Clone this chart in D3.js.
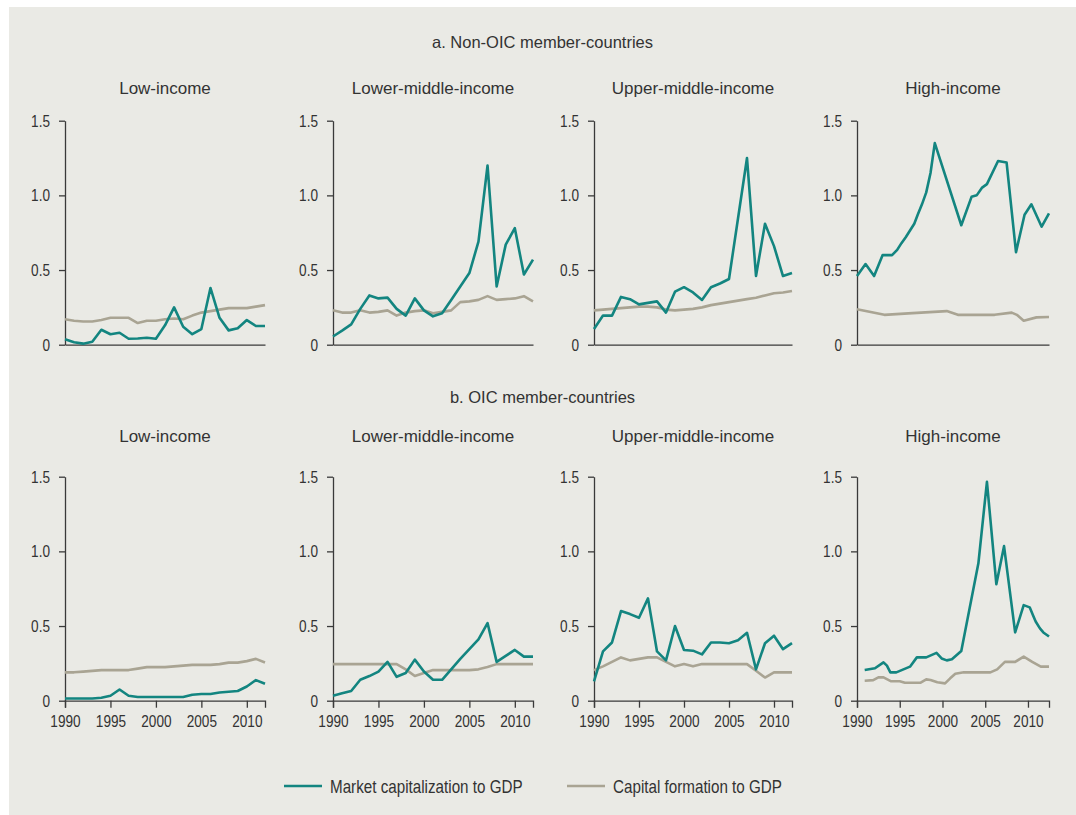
<!DOCTYPE html>
<html>
<head>
<meta charset="utf-8">
<script src="https://cdn.jsdelivr.net/npm/d3@7"></script>
<style>
  html, body { margin: 0; padding: 0; background: #ffffff; }
  svg { display: block; }
</style>
</head>
<body>
<svg id="chart" width="1076" height="815"></svg>
<script>
// ---------------- DATA ----------------
const years = [1990,1991,1992,1993,1994,1995,1996,1997,1998,1999,2000,2001,2002,2003,2004,2005,2006,2007,2008,2009,2010,2011,2012];
const xTickValues = [1990, 1995, 2000, 2005, 2010];
const yTickValues = [0, 0.5, 1.0, 1.5];
const yTickLabels = ["0", "0.5", "1.0", "1.5"];
const groupTitles = ["a. Non-OIC member-countries", "b. OIC member-countries"];
const panelTitles = ["Low-income", "Lower-middle-income", "Upper-middle-income", "High-income"];
const seriesNames = ["Market capitalization to GDP", "Capital formation to GDP"];

// a. Non-OIC member-countries
const nonOicLowMcap = [0.036,0.016,0.007,0.02,0.10,0.07,0.08,0.04,0.042,0.047,0.04,0.13,0.25,0.12,0.07,0.105,0.38,0.18,0.096,0.11,0.165,0.125,0.125];
const nonOicLowGcf  = [0.17,0.16,0.155,0.155,0.165,0.18,0.18,0.18,0.145,0.16,0.16,0.17,0.175,0.17,0.195,0.215,0.225,0.235,0.245,0.245,0.245,0.255,0.265];
const nonOicLmMcap  = [0.055,0.094,0.136,0.24,0.33,0.31,0.315,0.24,0.195,0.31,0.23,0.19,0.21,0.30,0.39,0.48,0.69,1.20,0.39,0.67,0.78,0.47,0.57];
const nonOicLmGcf   = [0.23,0.215,0.215,0.23,0.215,0.22,0.23,0.195,0.215,0.225,0.23,0.21,0.22,0.23,0.285,0.29,0.30,0.325,0.30,0.305,0.31,0.325,0.29];
const nonOicUmMcap  = [0.105,0.195,0.195,0.32,0.305,0.27,0.28,0.29,0.215,0.355,0.385,0.35,0.30,0.385,0.41,0.44,0.845,1.25,0.46,0.81,0.66,0.46,0.48];
const nonOicUmGcf   = [0.23,0.235,0.24,0.245,0.25,0.255,0.255,0.25,0.235,0.23,0.235,0.24,0.25,0.265,0.275,0.285,0.295,0.305,0.315,0.33,0.345,0.35,0.36];
const nonOicHiMcapYears = [1990,1991,1992,1993,1994.1,1994.7,1995.2,1995.7,1996.2,1996.7,1997.1,1997.6,1998.1,1998.6,1999.1,2002.2,2003.4,2004,2004.6,2005.2,2006.5,2007.5,2008.6,2009.6,2010.4,2011.6,2012.46];
const nonOicHiMcap      = [0.46,0.54,0.46,0.60,0.60,0.635,0.68,0.72,0.765,0.81,0.87,0.94,1.02,1.15,1.35,0.80,0.99,1.0,1.05,1.075,1.23,1.22,0.62,0.87,0.94,0.79,0.88];
const nonOicHiGcfYears  = [1990,1993.2,1996,2000.5,2001.8,2006.1,2008.1,2008.7,2009.5,2011,2012.46];
const nonOicHiGcf       = [0.237,0.20,0.21,0.225,0.20,0.20,0.215,0.20,0.16,0.183,0.185];

// b. OIC member-countries
const oicLowMcap = [0.015,0.015,0.015,0.015,0.02,0.033,0.075,0.033,0.025,0.025,0.025,0.025,0.025,0.025,0.04,0.045,0.045,0.055,0.06,0.065,0.095,0.138,0.114];
const oicLowGcf  = [0.19,0.19,0.195,0.2,0.205,0.205,0.205,0.205,0.215,0.225,0.225,0.225,0.23,0.235,0.24,0.24,0.24,0.245,0.255,0.255,0.265,0.28,0.256];
const oicLmMcap  = [0.033,0.05,0.065,0.14,0.165,0.195,0.26,0.16,0.185,0.275,0.195,0.14,0.14,0.21,0.28,0.345,0.41,0.52,0.26,0.30,0.34,0.295,0.295];
const oicLmGcf   = [0.245,0.245,0.245,0.245,0.245,0.245,0.245,0.245,0.21,0.165,0.185,0.205,0.205,0.205,0.205,0.205,0.21,0.225,0.245,0.245,0.245,0.245,0.245];
const oicUmMcap  = [0.13,0.33,0.39,0.60,0.58,0.555,0.685,0.33,0.27,0.50,0.34,0.335,0.31,0.39,0.39,0.385,0.405,0.455,0.21,0.385,0.435,0.345,0.385];
const oicUmGcf   = [0.205,0.23,0.26,0.29,0.27,0.28,0.29,0.29,0.26,0.23,0.245,0.23,0.245,0.245,0.245,0.245,0.245,0.245,0.20,0.155,0.19,0.19,0.19];
const oicHiMcapYears = [1990.9,1992.1,1993.1,1993.5,1993.9,1994.6,1996.2,1997,1998.1,1999.3,1999.9,2000.5,2001.1,2002.2,2004.2,2005.2,2006.3,2007.2,2008.5,2009.5,2010.2,2010.6,2010.9,2011.4,2011.8,2012.46];
const oicHiMcap      = [0.205,0.217,0.257,0.235,0.19,0.19,0.228,0.29,0.29,0.32,0.283,0.27,0.277,0.333,0.92,1.466,0.78,1.035,0.457,0.64,0.625,0.57,0.53,0.484,0.457,0.43];
const oicHiGcfYears  = [1990.9,1991.9,1992.5,1993.1,1994,1995,1995.6,1997.4,1998.1,1998.6,1999.4,2000.3,2000.9,2001.5,2002.5,2005.6,2006.4,2007.3,2008.5,2009.5,2010.5,2011.5,2012.46];
const oicHiGcf       = [0.134,0.138,0.156,0.156,0.13,0.13,0.12,0.12,0.143,0.138,0.123,0.116,0.15,0.18,0.19,0.19,0.21,0.26,0.26,0.295,0.26,0.228,0.228];

// ---------------- LAYOUT ----------------
const colors = { mcap: "#138580", gcf: "#a9a493", axis: "#3a3a3a", text: "#333333", bg: "#eaeae5" };
const fontFam = "'Liberation Sans', Arial, sans-serif";
const narrowRatio = 0.8; // condensed look: squeeze glyphs horizontally
const cols = [
  { x0: 65,  x1: 265,  xMax: 2012 },
  { x0: 333, x1: 533,  xMax: 2012 },
  { x0: 594, x1: 792,  xMax: 2012 },
  { x0: 857, x1: 1049, xMax: 2012.46 }
];
const rows = [
  { yBase: 344.7, yTop: 120.7, titleY: 88,  groupY: 42,  xLabels: false },
  { yBase: 700.7, yTop: 476.7, titleY: 436, groupY: 397, xLabels: true }
];
const zip = (xs, vs) => xs.map((x, i) => ({ x: x, v: vs[i] }));
const panels = [
  [ [zip(years, nonOicLowMcap), zip(years, nonOicLowGcf)],
    [zip(years, nonOicLmMcap),  zip(years, nonOicLmGcf)],
    [zip(years, nonOicUmMcap),  zip(years, nonOicUmGcf)],
    [zip(nonOicHiMcapYears, nonOicHiMcap), zip(nonOicHiGcfYears, nonOicHiGcf)] ],
  [ [zip(years, oicLowMcap), zip(years, oicLowGcf)],
    [zip(years, oicLmMcap),  zip(years, oicLmGcf)],
    [zip(years, oicUmMcap),  zip(years, oicUmGcf)],
    [zip(oicHiMcapYears, oicHiMcap), zip(oicHiGcfYears, oicHiGcf)] ]
];

function condense(sel) {
  sel.each(function () {
    const len = this.getComputedTextLength();
    d3.select(this).attr("textLength", len * narrowRatio).attr("lengthAdjust", "spacingAndGlyphs");
  });
}

const svg = d3.select("#chart");
svg.append("rect").attr("x", 9).attr("y", 7).attr("width", 1067).attr("height", 808).attr("fill", colors.bg);

rows.forEach((row, ri) => {
  svg.append("text")
    .attr("x", 542.5).attr("y", row.groupY).attr("dy", "0.35em")
    .attr("text-anchor", "middle")
    .style("font-family", fontFam).style("font-size", "16.5px").style("fill", colors.text)
    .text(groupTitles[ri]);

  cols.forEach((col, ci) => {
    const x = d3.scaleLinear().domain([1990, col.xMax]).range([col.x0, col.x1]);
    const y = d3.scaleLinear().domain([0, 1.5]).range([row.yBase, row.yTop]);
    const g = svg.append("g");

    g.append("text")
      .attr("x", (col.x0 + col.x1) / 2).attr("y", row.titleY).attr("dy", "0.35em")
      .attr("text-anchor", "middle")
      .style("font-family", fontFam).style("font-size", "17px").style("fill", colors.text)
      .text(panelTitles[ci]);

    // y axis
    const yAxis = d3.axisLeft(y).tickValues(yTickValues).tickSize(6).tickSizeOuter(0).tickPadding(9)
      .tickFormat((d, i) => yTickLabels[i]);
    const ya = g.append("g").attr("transform", `translate(${col.x0},0)`).call(yAxis);

    // x axis
    const xAxis = d3.axisBottom(x).tickSizeOuter(0);
    if (row.xLabels) xAxis.tickValues(xTickValues).tickSize(7).tickPadding(7).tickFormat(d3.format("d"));
    else xAxis.tickValues([]);
    const xa = g.append("g").attr("transform", `translate(0,${row.yBase})`).call(xAxis);

    [ya, xa].forEach(a => {
      a.select(".domain").attr("stroke", colors.axis).attr("stroke-width", 1.3);
      a.selectAll(".tick line").attr("stroke", colors.axis).attr("stroke-width", 1.3);
      a.selectAll(".tick text").style("font-family", fontFam).style("font-size", "17px").style("fill", colors.text)
        .call(condense);
    });

    const line = d3.line().x(d => x(d.x)).y(d => y(d.v));
    const [mcap, gcf] = panels[ri][ci];
    g.append("path").datum(gcf).attr("d", line)
      .attr("fill", "none").attr("stroke", colors.gcf).attr("stroke-width", 2.6).attr("stroke-linejoin", "round");
    g.append("path").datum(mcap).attr("d", line)
      .attr("fill", "none").attr("stroke", colors.mcap).attr("stroke-width", 2.6).attr("stroke-linejoin", "round");
  });
});

// legend
const legendItems = [
  { name: seriesNames[0], color: colors.mcap, x: 284 },
  { name: seriesNames[1], color: colors.gcf,  x: 567 }
];
const lg = svg.append("g");
legendItems.forEach(it => {
  lg.append("line").attr("x1", it.x).attr("x2", it.x + 38).attr("y1", 786).attr("y2", 786)
    .attr("stroke", it.color).attr("stroke-width", 2.6);
  lg.append("text").attr("x", it.x + 46).attr("y", 786).attr("dy", "0.35em")
    .style("font-family", fontFam).style("font-size", "19px").style("fill", colors.text)
    .text(it.name)
    .call(condense);
});
</script>
</body>
</html>
